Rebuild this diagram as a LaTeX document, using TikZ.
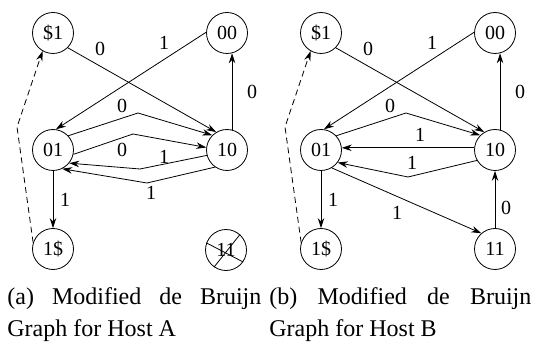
\documentclass[tikz,border=0pt]{standalone}
\usepackage{fontspec}
\setmainfont{Liberation Serif}
\usetikzlibrary{arrows.meta}
\begin{document}
\begin{tikzpicture}[x=1pt,y=-1pt,line width=0.8pt,
  st/.style={circle,draw,minimum size=41pt,inner sep=0pt,font=\fontsize{20}{22}\selectfont},
  ar/.style={-{Stealth[length=10pt,width=6.5pt]}},
  dsh/.style={dash pattern=on 6pt off 4pt},
  lb/.style={font=\fontsize{20}{22}\selectfont,inner sep=0pt},
  captext/.style={font=\fontsize{24}{30}\selectfont,anchor=base west,inner sep=0pt}]
\useasboundingbox (0,0) rectangle (538,347);
% ---------- panel (a)
\node[st] (aS1) at (53,33) {\$1};
\node[st] (a00) at (227,33) {00};
\node[st] (a01) at (53,150) {01};
\node[st] (a10) at (227,150) {10};
\node[st] (a1S) at (53,249) {1\$};
\node[st] (a11) at (226,250) {11};
\draw (a11.160) -- (a11.-35);
\draw (a11.48) -- (a11.-125);
\coordinate (am1) at (138,113);
\coordinate (am2) at (133,134);
\coordinate (am3) at (140,169);
\coordinate (am4) at (147,183);
\coordinate (amd) at (17,127);
\draw[ar] (aS1.-45) -- (a10.121);
\draw[ar] (a00.178) -- (a01.82);
\draw[ar] (a10.76) -- (a00.-76);
\draw[ar] (a01.43) -- (am1) -- (a10.135);
\draw[ar] (a01.-12) -- (am2) -- (a10.173);
\draw[ar] (a10.-165) -- (am3) -- (a01.-39);
\draw[ar] (a10.-125) -- (am4) -- (a01.-64);
\draw[ar] (a01.south) -- (a1S.north);
\draw[ar,dsh] (a1S.162) -- (amd) -- (aS1.-120);
\node[lb] (al1) at (100,49) {0};
\node[lb] (al2) at (164,43) {1};
\node[lb] (al3) at (252,92) {0};
\node[lb] (al4) at (122,106) {0};
\node[lb] (al5) at (122,150) {0};
\node[lb] (al6) at (164,157) {1};
\node[lb] (al7) at (151,193) {1};
\node[lb] (al8) at (65,200) {1};
% ---------- panel (b)
\begin{scope}[xshift=268pt]
\node[st] (bS1) at (53,33) {\$1};
\node[st] (b00) at (227,33) {00};
\node[st] (b01) at (53,150) {01};
\node[st] (b10) at (227,150) {10};
\node[st] (b1S) at (53,249) {1\$};
\node[st] (b11) at (227,249) {11};
\coordinate (bm1) at (138,113);
\coordinate (bm3) at (140,177);
\coordinate (bmd) at (17,127);
\draw[ar] (bS1.-45) -- (b10.121);
\draw[ar] (b00.178) -- (b01.82);
\draw[ar] (b10.76) -- (b00.-76);
\draw[ar] (b01.43) -- (bm1) -- (b10.135);
\draw[ar] (b10.174) -- (b01.6);
\draw[ar] (b10.-150) -- (bm3) -- (b01.-37);
\draw[ar] (b01.-59) -- (b11.131);
\draw[ar] (b11.north) -- (b10.south);
\draw[ar] (b01.south) -- (b1S.north);
\draw[ar,dsh] (b1S.162) -- (bmd) -- (bS1.-120);
\node[lb] (bl1) at (100,49) {0};
\node[lb] (bl2) at (164,43) {1};
\node[lb] (bl3) at (252,92) {0};
\node[lb] (bl4) at (122,106) {0};
\node[lb] (bl5) at (152,135) {1};
\node[lb] (bl6) at (144,163) {1};
\node[lb] (bl7) at (129,213) {1};
\node[lb] (bl8) at (238,208) {0};
\node[lb] (bl9) at (65,200) {1};
\end{scope}
% ---------- captions
\node[captext] (ca1) at (7,305) {\hbox to 254pt{(a)\hfill Modified\hfill de\hfill Bruijn}};
\node[captext] (ca2) at (7,336) {Graph for Host A};
\node[captext] (cb1) at (269,305) {\hbox to 262pt{(b)\hfill Modified\hfill de\hfill Bruijn}};
\node[captext] (cb2) at (269,336) {Graph for Host B};
\end{tikzpicture}
\end{document}
